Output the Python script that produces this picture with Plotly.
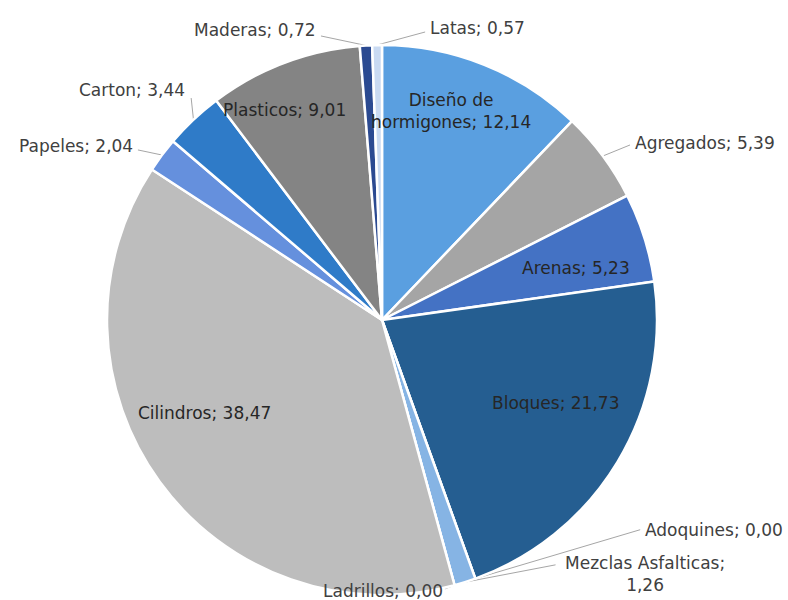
import math
import plotly.graph_objects as go

# ---- data ----
categories = ["Diseño de hormigones", "Agregados", "Arenas", "Bloques", "Adoquines",
              "Mezclas Asfalticas", "Ladrillos", "Cilindros", "Papeles", "Carton",
              "Plasticos", "Maderas", "Latas"]
values = [12.14, 5.39, 5.23, 21.73, 0.00, 1.26, 0.00, 38.47, 2.04, 3.44, 9.01, 0.72, 0.57]

# ---- style ----
colors = ["#5a9fe0", "#a5a5a5", "#4472c4", "#255e91", "#636363", "#86b4e4", "#c9c9c9",
          "#bdbdbd", "#6590dd", "#2f7bc8", "#848484", "#2b4a91", "#c9daf2"]
line_breaks = {"Diseño de hormigones": "Diseño de<br>hormigones; {v}",
               "Mezclas Asfalticas": "Mezclas Asfalticas;<br>{v}"}
# per-label placement: (inside?, radial fraction, angle shift deg, xanchor, leader end offset px)
placement = [
    (True, 0.80, -3.5, "center", None),
    (False, 1.117, 1.4, "left", (-3, 2)),
    (True, 0.73, 2.4, "center", None),
    (True, 0.70, -5.6, "center", None),
    (False, 1.218, -31.4, "left", (-3, 0)),
    (False, 1.328, -28.4, "center", (-89, -9)),
    (False, 0.985, 15.1, "center", (62, -2)),
    (True, 0.73, 8.4, "center", None),
    (False, 1.099, -1.7, "right", (3, 4)),
    (False, 1.096, 3.0, "right", (4, 8)),
    (True, 0.84, -4.0, "center", None),
    (False, 1.080, -9.1, "right", (3, 6)),
    (False, 1.075, 10.0, "left", (-3, 4)),
]

W, H = 788, 600
CX, CY, R = 382, 320, 275
FONT = "DejaVu Sans"


def px2paper(x, y):
    return x / W, 1 - y / H


def polar(theta_deg, rr):
    t = math.radians(theta_deg)
    return CX + rr * math.sin(t), CY - rr * math.cos(t)


fig = go.Figure()
fig.add_trace(go.Pie(
    labels=categories, values=values, sort=False, direction="clockwise", rotation=0,
    marker=dict(colors=colors, line=dict(color="white", width=2.5)),
    textinfo="none", hoverinfo="label+value", showlegend=False,
    domain=dict(x=[(CX - R) / W, (CX + R) / W], y=[(H - CY - R) / H, (H - CY + R) / H]),
))

total = sum(values)
cum = 0.0
annotations, shapes = [], []
for name, v, (inside, rf, shift, xa, lead) in zip(categories, values, placement):
    mid = 360 * (cum + v / 2) / total
    cum += v
    vs = f"{v:.2f}".replace(".", ",")
    txt = line_breaks.get(name, "{n}; {v}").format(n=name, v=vs)
    lx, ly = polar(mid + shift, rf * R)
    ax_, ay_ = px2paper(lx, ly)
    annotations.append(dict(
        x=ax_, y=ay_, xref="paper", yref="paper", text=txt, showarrow=False,
        xanchor=xa, yanchor="middle", align="center",
        font=dict(family=FONT, size=17, color="#262626" if inside else "#404040"),
    ))
    if lead is not None:
        ex, ey = polar(mid, R)
        x0, y0 = px2paper(ex, ey)
        x1, y1 = px2paper(lx + lead[0], ly + lead[1])
        shapes.append(dict(type="line", xref="paper", yref="paper", x0=x0, y0=y0, x1=x1, y1=y1,
                           line=dict(color="#a6a6a6", width=1), layer="below"))

fig.update_layout(
    width=W, height=H, margin=dict(l=0, r=0, t=0, b=0),
    paper_bgcolor="white", plot_bgcolor="white",
    annotations=annotations, shapes=shapes,
)
fig.write_html("out.html")
